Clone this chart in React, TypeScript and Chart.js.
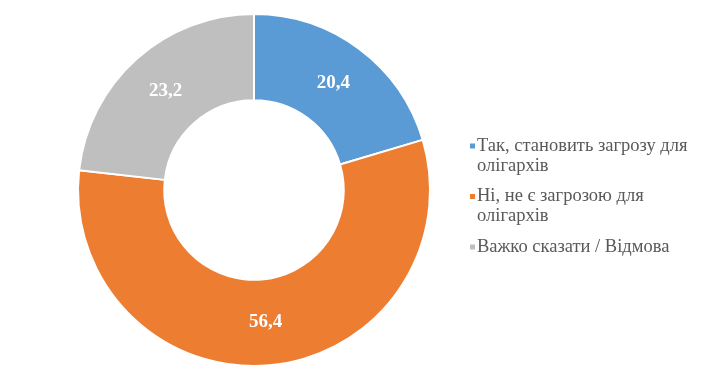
import React, { useEffect, useRef } from "react";
import { Chart, registerables } from "chart.js";

Chart.register(...registerables);

const categories = [
  "Так, становить загрозу для олігархів",
  "Ні, не є загрозою для олігархів",
  "Важко сказати / Відмова",
];
const values = [20.4, 56.4, 23.2];
const colors = ["#5B9BD5", "#ED7D31", "#BFBFBF"];

const W = 704;
const H = 374;

function wrap(ctx: CanvasRenderingContext2D, text: string, maxW: number): string[] {
  const words = text.split(" ");
  const lines: string[] = [];
  let cur = "";
  for (const w of words) {
    const t = cur ? cur + " " + w : w;
    if (ctx.measureText(t).width > maxW && cur) {
      lines.push(cur);
      cur = w;
    } else cur = t;
  }
  if (cur) lines.push(cur);
  return lines;
}

const labelsPlugin = {
  id: "valueLabels",
  afterDatasetsDraw(chart: any) {
    const ctx = chart.ctx as CanvasRenderingContext2D;
    const meta = chart.getDatasetMeta(0);
    ctx.save();
    ctx.font = "bold 19px 'Liberation Serif', 'Times New Roman', serif";
    ctx.fillStyle = "#FFFFFF";
    ctx.textAlign = "center";
    ctx.textBaseline = "middle";
    meta.data.forEach((arc: any, i: number) => {
      const p = arc.getCenterPoint();
      ctx.fillText(String(values[i]).replace(".", ","), p.x, p.y);
    });
    ctx.restore();
  },
};

const legendPlugin = {
  id: "sideLegend",
  afterDraw(chart: any) {
    const ctx = chart.ctx as CanvasRenderingContext2D;
    ctx.save();
    ctx.font = "18.5px 'Liberation Serif', 'Times New Roman', serif";
    ctx.textBaseline = "middle";
    ctx.textAlign = "left";
    let y = 146;
    const x0 = 470;
    const tx = 477;
    const lh = 20;
    categories.forEach((c, i) => {
      ctx.fillStyle = colors[i];
      ctx.fillRect(x0, y - 2.5, 5, 5);
      ctx.fillStyle = "#595959";
      const lines = wrap(ctx, c, 222);
      lines.forEach((ln, j) => {
        ctx.fillText(ln, tx, y + j * lh);
      });
      y += lines.length * lh + 10.5;
    });
    ctx.restore();
  },
};

export default function App() {
  const ref = useRef<HTMLCanvasElement | null>(null);
  useEffect(() => {
    if (!ref.current) return;
    const chart = new Chart(ref.current, {
      type: "doughnut",
      data: {
        labels: categories,
        datasets: [
          {
            data: values,
            backgroundColor: colors,
            borderColor: "#FFFFFF",
            borderWidth: 2,
          },
        ],
      },
      options: {
        responsive: false,
        animation: false,
        cutout: "51%",
        layout: { padding: { left: 77, right: 273, top: 13, bottom: 7 } },
        plugins: {
          legend: { display: false },
          tooltip: { enabled: false },
        },
      },
      plugins: [labelsPlugin, legendPlugin],
    });
    return () => chart.destroy();
  }, []);
  return (
    <div style={{ position: "fixed", left: 0, top: 0, width: W, height: H, background: "#fff" }}>
      <canvas ref={ref} width={W} height={H} style={{ width: W, height: H }} />
    </div>
  );
}
